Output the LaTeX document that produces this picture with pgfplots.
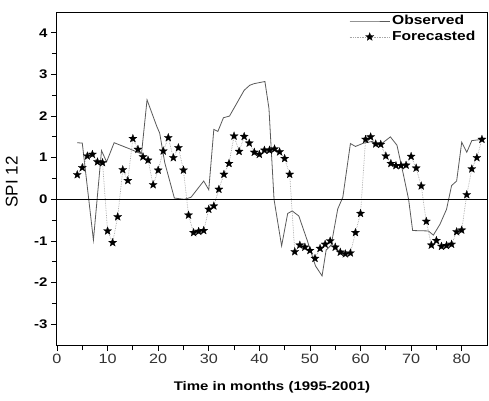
\documentclass[border=0pt]{standalone}
\usepackage{pgfplots}
\pgfplotsset{compat=1.18}
\usepackage{fontspec}
\setmainfont{Liberation Sans}
\newfontfamily\widefont{Liberation Sans}[FakeStretch=1.2]

% filled five-pointed star
\pgfdeclareplotmark{fstar}{%
  \pgfpathmoveto{\pgfpointpolar{90}{\pgfplotmarksize}}%
  \pgfpathlineto{\pgfpointpolar{126}{0.42\pgfplotmarksize}}%
  \pgfpathlineto{\pgfpointpolar{162}{\pgfplotmarksize}}%
  \pgfpathlineto{\pgfpointpolar{198}{0.42\pgfplotmarksize}}%
  \pgfpathlineto{\pgfpointpolar{234}{\pgfplotmarksize}}%
  \pgfpathlineto{\pgfpointpolar{270}{0.42\pgfplotmarksize}}%
  \pgfpathlineto{\pgfpointpolar{306}{\pgfplotmarksize}}%
  \pgfpathlineto{\pgfpointpolar{342}{0.42\pgfplotmarksize}}%
  \pgfpathlineto{\pgfpointpolar{18}{\pgfplotmarksize}}%
  \pgfpathlineto{\pgfpointpolar{54}{0.42\pgfplotmarksize}}%
  \pgfpathclose
  \pgfusepathqfillstroke
}

\begin{document}
\begin{tikzpicture}
  \begin{axis}[
      width=430pt,
      height=333pt,
      scale only axis,
      xmin=0, xmax=85,
      ymin=-3.5, ymax=4.5,
      xtick={0,10,...,80},
      ytick={-3,-2,...,4},
      minor x tick num=1,
      minor y tick num=1,
      tick align=outside,
      xtick pos=bottom,
      ytick pos=left,
      major tick length=6pt,
      minor tick length=5pt,
      axis line style={line width=1pt},
      tick style={black, line width=0.8pt},
      /pgf/number format/assume math mode=true,
      xticklabel style={font=\widefont\fontsize{13.5}{13.5}\selectfont, text=black!80},
      yticklabel style={font=\widefont\bfseries\fontsize{12.5}{12.5}\selectfont},
      xlabel={Time in months (1995-2001)},
      xlabel style={font=\widefont\bfseries\fontsize{12.5}{12.5}\selectfont,
        at={(axis description cs:0.5,0)}, yshift=-42pt, anchor=center},
      ylabel={SPI 12},
      ylabel style={font=\fontsize{17}{17}\selectfont,
        at={(axis description cs:-0.105,0.49)}, anchor=center},
      legend style={at={(axis description cs:0.985,0.99)}, anchor=north east,
        yshift=4pt, draw=none, fill=none, row sep=1pt,
        font=\widefont\bfseries\fontsize{13}{13}\selectfont},
      legend cell align=left,
      legend image code/.code={%
        \draw[mark repeat=2,mark phase=2,#1]
          plot coordinates {(0pt,0pt) (20pt,0pt) (40pt,0pt)};},
    ]
    \addplot[black!65, line width=0.8pt] coordinates {
        (4.0,1.36) (5.0,1.35) (7.2,-0.98) (8.8,1.17) (9.8,0.90) (11.3,1.36)
        (14.4,1.21) (16.7,1.09) (17.8,2.39) (19.7,1.76) (20.3,1.59) (21.3,0.88)
        (23.2,0.03) (25.2,0.00) (26.5,0.05) (29.0,0.44) (30.0,0.23) (31.0,1.68)
        (31.8,1.63) (32.9,1.96) (34.1,2.00) (37.0,2.62) (38.1,2.74) (39.0,2.78)
        (41.1,2.83) (41.9,2.18) (42.9,0.00) (44.4,-1.12) (45.6,-0.34) (46.5,-0.28)
        (47.8,-0.40) (49.5,-1.00) (51.1,-1.60) (52.4,-1.84) (53.2,-1.22) (54.2,-1.10)
        (55.5,-0.23) (56.5,0.05) (58.0,1.34) (59.0,1.27) (60.6,1.35) (62.3,1.39)
        (63.3,1.31) (64.2,1.34) (65.9,1.50) (67.2,1.30) (68.5,0.58) (69.5,0.00)
        (70.3,-0.75) (73.4,-0.76) (74.4,-0.86) (75.7,-0.60) (77.0,-0.24) (78.0,0.33)
        (79.0,0.44) (80.0,1.37) (81.0,1.13) (82.0,1.41) (84.0,1.44)
      };
    \addlegendentry{Observed}
    \addplot[black!35, densely dotted, line width=0.7pt, mark=fstar, mark size=4.3pt,
      mark options={solid, fill=black, draw=black, line width=0.2pt}] coordinates {
        (4,0.59) (5,0.76) (6,1.04) (7,1.08) (8,0.90) (9,0.88) (10,-0.76)
        (11,-1.04) (12,-0.42) (13,0.71) (14,0.45) (15,1.46) (16,1.20) (17,1.02)
        (18,0.94) (19,0.35) (20,0.70) (21,1.16) (22,1.48) (23,1.00) (24,1.24)
        (25,0.70) (26,-0.38) (27,-0.80) (28,-0.77) (29,-0.75) (30,-0.24) (31,-0.16)
        (32,0.24) (33,0.60) (34,0.86) (35,1.52) (36,1.15) (37,1.51) (38,1.35)
        (39,1.13) (40,1.08) (41,1.18) (42,1.18) (43,1.21) (44,1.14) (45,0.98)
        (46,0.60) (47,-1.26) (48,-1.10) (49,-1.15) (50,-1.23) (51,-1.42) (52,-1.18)
        (53,-1.08) (54,-1.00) (55,-1.15) (56,-1.27) (57,-1.31) (58,-1.29) (59,-0.80)
        (60,-0.34) (61,1.44) (62,1.50) (63,1.33) (64,1.32) (65,1.04) (66,0.86)
        (67,0.81) (68,0.81) (69,0.82) (70,1.03) (71,0.75) (72,0.32) (73,-0.53)
        (74,-1.10) (75,-0.99) (76,-1.13) (77,-1.11) (78,-1.08) (79,-0.78) (80,-0.74)
        (81,0.11) (82,0.73) (83,1.00) (84,1.44)
      };
    \addlegendentry{Forecasted}
    \addplot[black, line width=1pt, forget plot] coordinates {(0,0) (85,0)};
  \end{axis}
  \pgfresetboundingbox
  \path (current axis.south west) ++(-57pt,-55pt) rectangle ++(489pt,400pt);
\end{tikzpicture}
\end{document}
